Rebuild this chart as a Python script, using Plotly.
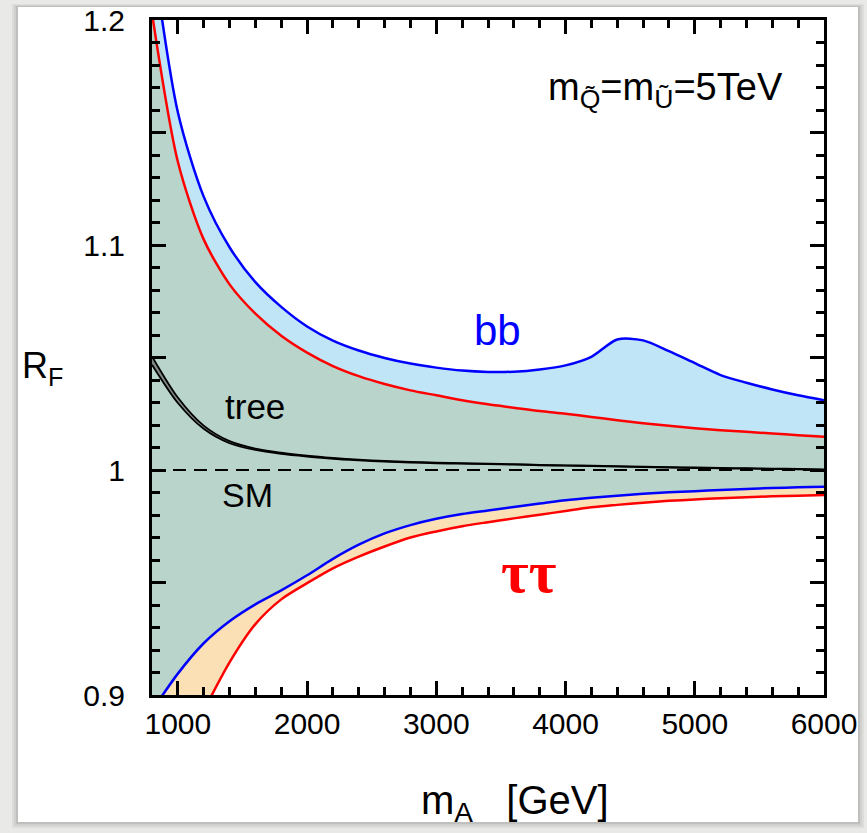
import plotly.graph_objects as go

# ---------------- data ----------------
mA = [800, 1000, 1200, 1400, 1600, 1800, 2000, 2200, 2400, 2600, 2800, 3000, 3200, 3400,
      3600, 3800, 4000, 4200, 4400, 4600, 4800, 5000, 5200, 5400, 5600, 5800, 6000]

bb_blue = [1.232, 1.159, 1.1215, 1.099, 1.0835, 1.0725, 1.0638, 1.0575, 1.0531, 1.0498, 1.0473, 1.0455, 1.0442,
           1.0436, 1.0437, 1.0447, 1.0465, 1.0503, 1.058, 1.0576, 1.0528, 1.0475, 1.0422, 1.0388, 1.0358,
           1.0332, 1.031]
bb_red = [1.203, 1.137, 1.1025, 1.0825, 1.0695, 1.0597, 1.0522, 1.0462, 1.0417, 1.0382, 1.0354, 1.0332, 1.031,
          1.0292, 1.0277, 1.0262, 1.025, 1.0236, 1.0221, 1.0208, 1.0197, 1.0186, 1.0177, 1.0170, 1.0162,
          1.0155, 1.0148]
tt_blue = [0.893, 0.9095, 0.923, 0.9328, 0.9403, 0.9465, 0.9532, 0.9605, 0.9668, 0.9718, 0.9755, 0.9783, 0.9804,
           0.9820, 0.9836, 0.9851, 0.9866, 0.9877, 0.9886, 0.9894, 0.9901, 0.9906, 0.9911, 0.9916, 0.9920,
           0.9923, 0.9926]
tt_red = [0.840, 0.870, 0.893, 0.9145, 0.9315, 0.9425, 0.9497, 0.9563, 0.9615, 0.9660, 0.9700, 0.9727, 0.9750,
          0.9768, 0.9785, 0.9801, 0.9818, 0.9834, 0.9845, 0.9855, 0.9863, 0.9869, 0.9875, 0.9879, 0.9883,
          0.9886, 0.9889]
tree_hi = [1.0505, 1.0322, 1.0197, 1.0128, 1.0095, 1.0077, 1.0064, 1.0054, 1.0046, 1.0040, 1.0036, 1.0033, 1.0030,
           1.0028, 1.0026, 1.0023, 1.0021, 1.0019, 1.0017, 1.0015, 1.0013, 1.0011, 1.0009, 1.0008, 1.0006,
           1.0005, 1.0003]
tree_lo = [1.0468, 1.0298, 1.0183, 1.0119, 1.0089, 1.0072, 1.0060, 1.0050, 1.0043, 1.0037, 1.0033, 1.0030, 1.0028,
           1.0026, 1.0024, 1.0021, 1.0019, 1.0017, 1.0015, 1.0013, 1.0011, 1.0009, 1.0007, 1.0006, 1.0004,
           1.0003, 1.0001]
sm_x = [800, 6000]
sm_y = [1.0, 1.0]

x_ticks = [1000, 2000, 3000, 4000, 5000, 6000]
y_ticks = [0.9, 0.95, 1.0, 1.05, 1.1, 1.15, 1.2]
y_ticktext = ["0.9", "", "1", "", "1.1", "", "1.2"]

# ---------------- styles ----------------
LBLUE = "#bfe5f6"
GREEN = "#b9d4ca"
PEACH = "#fbe0b6"
BLUE = "#0000ff"
RED = "#ff0000"
FONT = "Liberation Sans, Arial, Helvetica, sans-serif"
SMOOTH = 0.8

fig = go.Figure()

def band(upper, lower, color):
    fig.add_trace(go.Scatter(
        x=mA + mA[::-1], y=upper + lower[::-1], fill="toself", fillcolor=color,
        mode="lines", line=dict(width=0, shape="spline", smoothing=SMOOTH),
        hoverinfo="skip", showlegend=False))

band(bb_blue, bb_red, LBLUE)
band(bb_red, tt_blue, GREEN)
band(tt_blue, tt_red, PEACH)
band(tree_hi, tree_lo, "#7f8a86")

def line(y, color, width=2.5, dash=None, x=None):
    fig.add_trace(go.Scatter(
        x=x if x is not None else mA, y=y, mode="lines",
        line=dict(color=color, width=width, dash=dash, shape="spline", smoothing=SMOOTH),
        hoverinfo="skip", showlegend=False))

line(sm_y, "black", 2.2, dash="13px,8px", x=sm_x)
line(tree_hi, "black", 1.8)
line(tree_lo, "black", 1.8)
line(bb_red, RED)
line(bb_blue, BLUE)
line(tt_red, RED)
line(tt_blue, BLUE)

# plot area in pixels: left 152, right 824, top 20, bottom 695
L, R, T, B = 152, 43, 20, 138
W, H = 867, 833
pw, ph = W - L - R, H - T - B

def px2paper(px, py):
    return (px - L) / pw, (H - B - py) / ph

shapes = []
for off, alpha in [(6, 0.05), (4, 0.06), (2, 0.08)]:
    x0, y1 = px2paper(18 - off, 7 - off / 2)
    x1, y0 = px2paper(858 + off, 822 + off)
    shapes.append(dict(type="rect", xref="paper", yref="paper", x0=x0, x1=x1, y0=y0, y1=y1,
                       fillcolor=f"rgba(0,0,0,{alpha})", line=dict(width=0), layer="below"))
x0, y1 = px2paper(18, 7)
x1, y0 = px2paper(858, 822)
shapes.append(dict(type="rect", xref="paper", yref="paper", x0=x0, x1=x1, y0=y0, y1=y1,
                   fillcolor="white", line=dict(width=0), layer="below"))

annotations = []
def ann(text, px, py, size, color="black", family=FONT, **kw):
    xp, yp = px2paper(px, py)
    annotations.append(dict(text=text, x=xp, y=yp, xref="paper", yref="paper", showarrow=False,
                            font=dict(size=size, color=color, family=family),
                            xanchor="center", yanchor="middle", **kw))

ann("m<sub>Q̃</sub>=m<sub>Ũ</sub>=5TeV", 665, 90, 38)
ann("bb", 498, 330, 42, BLUE)
ann("tree", 255, 406, 35)
ann("SM", 247, 495, 34)
ann("<b>ττ</b>", 528, 572, 60, RED, family="Liberation Serif, Times New Roman, serif")
ann("R<sub>F</sub>", 42, 368, 36)
ann("m<sub>A</sub>   [GeV]", 515, 803, 40)

axis_common = dict(showline=True, linecolor="black", linewidth=3, mirror="allticks",
                   ticks="inside", tickcolor="black", tickwidth=2.5, showgrid=False, zeroline=False,
                   automargin=False,
                   tickfont=dict(size=30, family=FONT, color="black"))

fig.update_layout(
    width=W, height=H,
    margin=dict(l=L, r=R, t=T, b=B, pad=0, autoexpand=False),
    paper_bgcolor="#e9e9e7",
    plot_bgcolor="white",
    showlegend=False,
    shapes=shapes,
    annotations=annotations,
    xaxis=dict(range=[800, 6000], tickvals=x_ticks, ticklen=14, ticklabelstandoff=0,
               minor=dict(dtick=200, tick0=0, ticklen=8, tickwidth=2.5, tickcolor="black", ticks="inside"),
               **axis_common),
    yaxis=dict(range=[0.9, 1.2], tickvals=y_ticks, ticktext=y_ticktext, ticklen=14, ticklabelstandoff=18,
               minor=dict(dtick=0.01, tick0=0.9, ticklen=8, tickwidth=2.5, tickcolor="black", ticks="inside"),
               **axis_common),
)

fig.write_html("out.html")
